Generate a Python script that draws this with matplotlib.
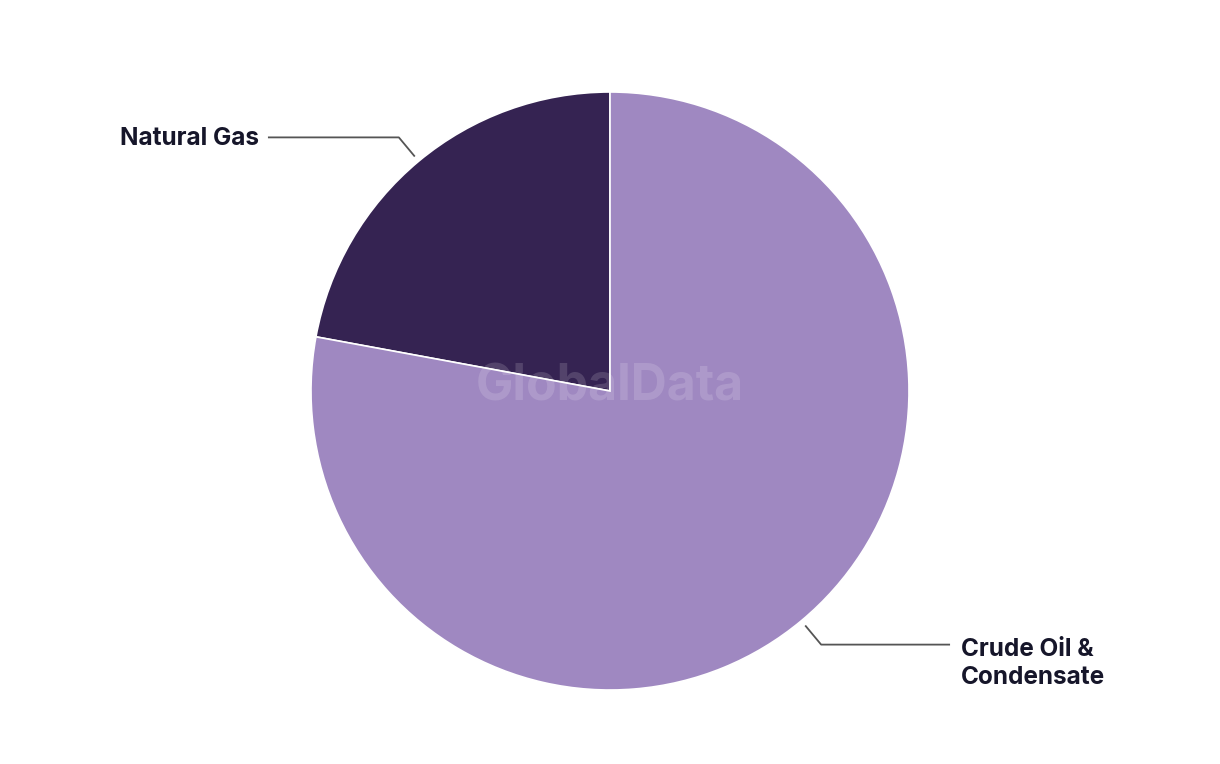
import numpy as np
import matplotlib.pyplot as plt

# data
labels = ['Natural Gas', 'Crude Oil &\nCondensate']
shares = [22.1, 77.9]
colors = ['#352352', '#9f88c1']

fig = plt.figure(figsize=(12.2, 7.64), dpi=100)
ax = fig.add_axes([0, 0, 1, 1])

cx, cy, R = 610, 373, 299
wedges, _ = ax.pie(shares, colors=colors, startangle=90, counterclock=True,
                   center=(cx, cy), radius=R, frame=True,
                   wedgeprops=dict(edgecolor='white', linewidth=1.2))
ax.set_xlim(0, 1220)
ax.set_ylim(0, 764)
ax.set_aspect('equal')
ax.axis('off')

# watermark
ax.text(cx, cy + 4, 'GlobalData', ha='center', va='center', fontsize=36,
        fontweight='bold', family='Inter', color='white', alpha=0.15)

# leader lines + labels
for w, lab in zip(wedges, labels):
    ang = np.deg2rad((w.theta1 + w.theta2) / 2)
    x0, y0 = cx + 306 * np.cos(ang), cy + 306 * np.sin(ang)
    x1, y1 = cx + 330 * np.cos(ang), cy + 330 * np.sin(ang)
    if np.cos(ang) < 0:
        x2 = x1 - 130
        ax.plot([x0, x1, x2], [y0, y1, y1], color='#555555', lw=1.3)
        ax.text(x2 - 10, y1 - 1, lab, ha='right', va='center', fontsize=17.5,
                fontweight='bold', family='Inter', color='#16162a')
    else:
        x2 = x1 + 128
        ax.plot([x0, x1, x2], [y0, y1, y1], color='#555555', lw=1.3)
        ax.text(x2 + 12, y1 - 19, lab, ha='left', va='center', fontsize=17.5,
                fontweight='bold', family='Inter', color='#16162a',
                linespacing=1.3)

fig.savefig('out.png', dpi=100, facecolor='white')
